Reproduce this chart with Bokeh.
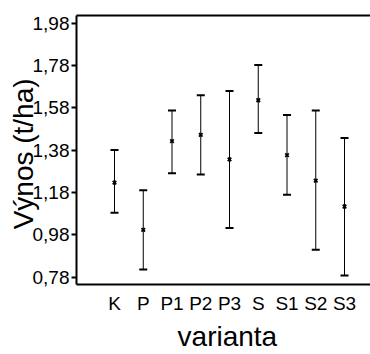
from bokeh.plotting import figure
from bokeh.models import (ColumnDataSource, Whisker, TeeHead, FixedTicker, LinearAxis,
                          CustomJSTickFormatter, Range1d)
from bokeh.embed import file_html
from bokeh.resources import INLINE

categories = ["K", "P", "P1", "P2", "P3", "S", "S1", "S2", "S3"]
means = [1.227, 1.004, 1.423, 1.452, 1.337, 1.616, 1.357, 1.236, 1.114]
upper = [1.381, 1.191, 1.568, 1.640, 1.660, 1.782, 1.546, 1.568, 1.437]
lower = [1.084, 0.816, 1.271, 1.265, 1.012, 1.461, 1.169, 0.910, 0.788]
y_ticks = [0.78, 0.98, 1.18, 1.38, 1.58, 1.78, 1.98]

xpos = list(range(1, len(categories) + 1))
src = ColumnDataSource(dict(x=xpos, mean=means, upper=upper, lower=lower))

FONT = "Liberation Sans"

p = figure(width=370, height=354, output_backend="svg", toolbar_location=None,
           x_range=Range1d(-0.322, 9.904), y_range=Range1d(0.7456, 2.0162),
           min_border_left=76, min_border_right=0, min_border_top=15, min_border_bottom=69)
p.outline_line_color = None
p.grid.visible = False
p.background_fill_color = "white"
p.border_fill_color = "white"

w = Whisker(source=src, base="x", upper="upper", lower="lower", dimension="height",
            line_color="black", line_width=1,
            upper_head=TeeHead(size=8, line_width=2, line_color="black"),
            lower_head=TeeHead(size=8, line_width=2, line_color="black"))
p.add_layout(w)
p.scatter("x", "mean", source=src, marker="x", size=5, line_width=1.8, line_color="black")

# y axis
ya = p.yaxis[0]
ya.ticker = FixedTicker(ticks=y_ticks)
ya.formatter = CustomJSTickFormatter(code="return tick.toFixed(2).replace('.', ',');")
ya.major_label_text_font = FONT
ya.major_label_text_font_size = "19px"
ya.major_label_text_color = "black"
ya.major_label_standoff = 2
ya.major_tick_out = 5
ya.major_tick_in = 0
ya.major_tick_line_width = 2
ya.minor_tick_line_color = None
ya.axis_line_width = 2
ya.axis_label = "Výnos (t/ha)\u00a0"
ya.axis_label_text_font = FONT
ya.axis_label_text_font_size = "28px"
ya.axis_label_text_font_style = "normal"
ya.axis_label_text_color = "black"
ya.axis_label_standoff = -9

# x axis
xa = p.xaxis[0]
xa.ticker = FixedTicker(ticks=xpos)
xa.major_label_overrides = {i: c for i, c in zip(xpos, categories)}
xa.major_label_text_font = FONT
xa.major_label_text_font_size = "19px"
xa.major_label_text_color = "black"
xa.major_label_standoff = 2
xa.major_tick_line_color = None
xa.minor_tick_line_color = None
xa.axis_line_width = 2
xa.axis_label = "\u00a0varianta"
xa.axis_label_text_font = FONT
xa.axis_label_text_font_size = "28px"
xa.axis_label_text_font_style = "normal"
xa.axis_label_text_color = "black"
xa.axis_label_standoff = 4

# top line
top = LinearAxis(ticker=FixedTicker(ticks=[]), major_tick_line_color=None,
                 minor_tick_line_color=None, major_label_text_font_size="0px",
                 major_label_standoff=0, axis_line_width=2)
p.add_layout(top, "above")

open("out.html", "w").write(file_html(p, INLINE))
